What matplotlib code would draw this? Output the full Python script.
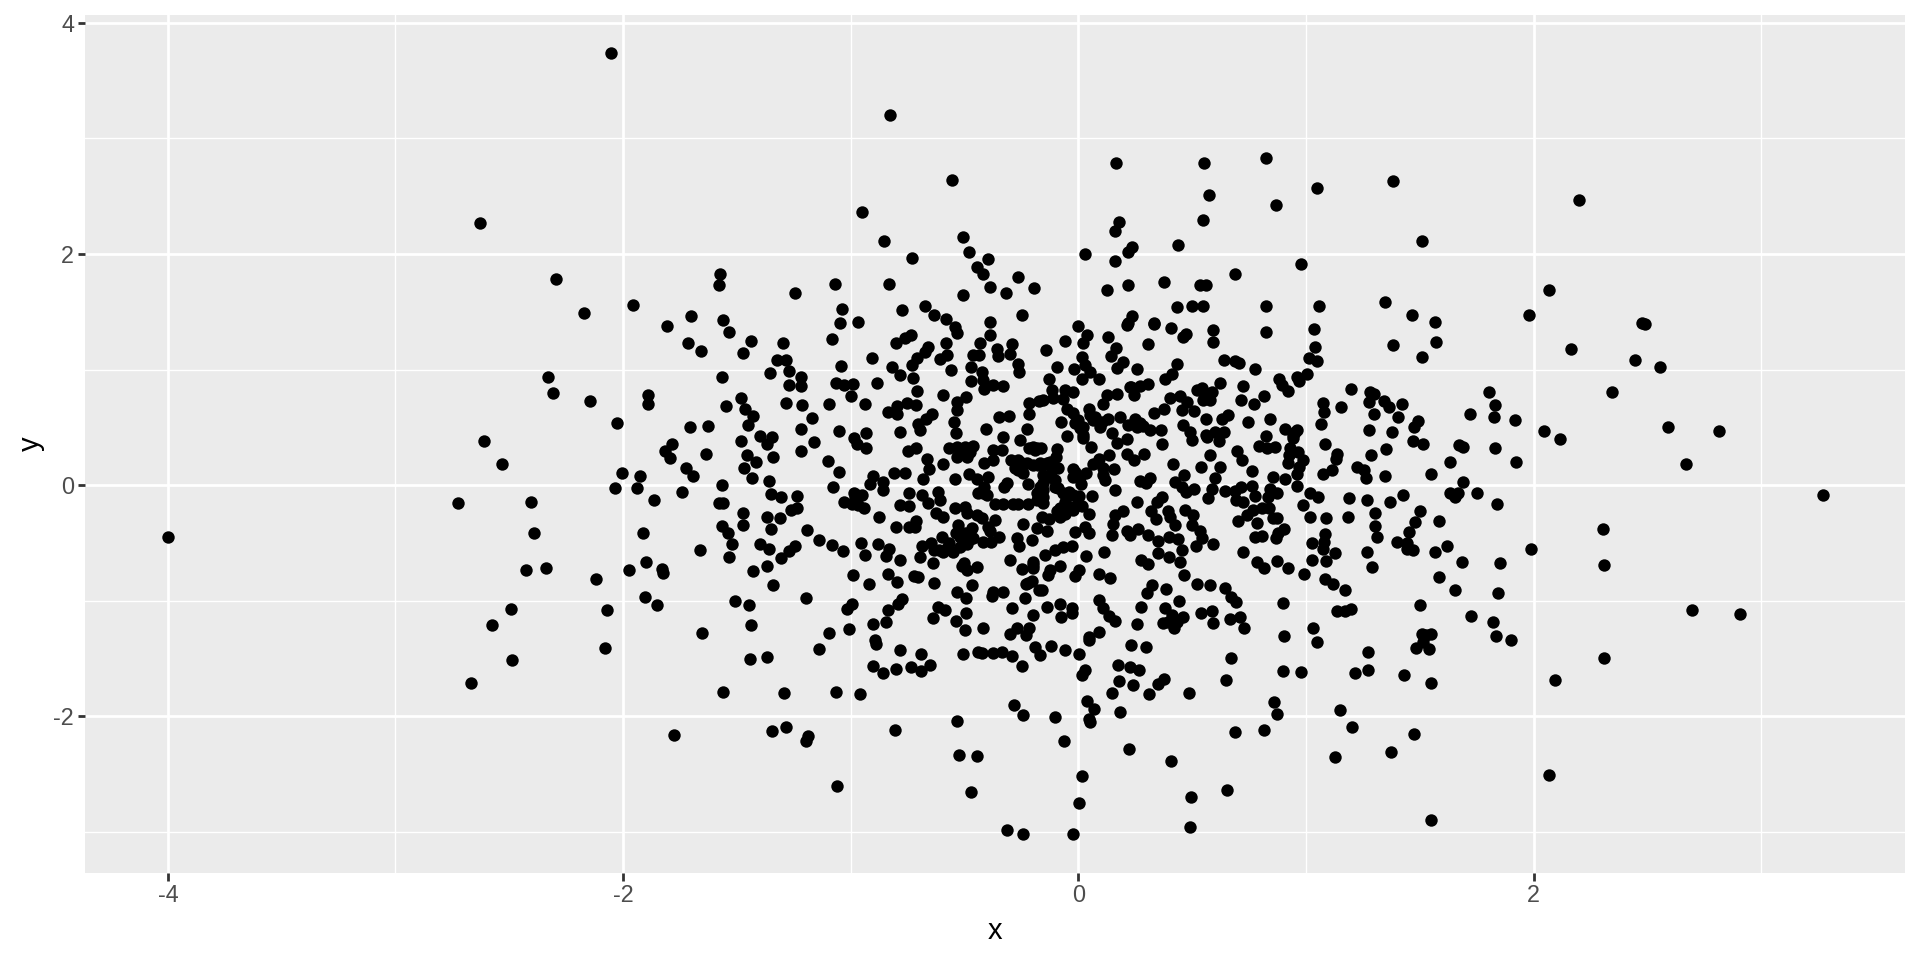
import numpy as np
import matplotlib
matplotlib.use("Agg")
import matplotlib.pyplot as plt

# values, by region
top_points = [
(-2.627,2.268),(-2.296,1.787),(-2.053,3.735),(-0.826,3.207),(-0.553,2.637),(-0.950,2.363),(-0.855,2.110),(-0.507,2.144),
(-0.479,2.014),(-0.398,1.954),(-0.731,1.963),(-0.447,1.888),(-0.419,1.827),(-0.264,1.804),(-0.196,1.706),(-0.389,1.715),
(-0.319,1.663),(-0.505,1.648),(-0.832,1.744),(-1.067,1.744),(-1.245,1.663),(-1.037,1.522),(-1.575,1.827),(-1.578,1.732),
(-1.956,1.559),(-2.173,1.490),(-1.700,1.467),(-1.559,1.43),(-0.775,1.513),(-0.675,1.548),(-0.634,1.473),(-0.583,1.435),
(-0.389,1.415),(-0.249,1.476),(-0.966,1.415),(-1.047,1.40),
(0.165,2.784),(0.551,2.790),(0.824,2.827),(1.384,2.631),(1.048,2.573),(0.575,2.513),(0.868,2.424),(0.546,2.297),
(0.179,2.274),(0.163,2.199),(1.510,2.112),(0.237,2.061),(0.220,2.014),(0.029,2.003),(0.160,1.939),(0.439,2.081),
(0.977,1.911),(0.687,1.824),(0.218,1.729),(0.124,1.689),(0.378,1.755),(0.534,1.729),(0.561,1.732),(0.435,1.545),
(0.501,1.550),(0.549,1.553),(0.823,1.553),(1.057,1.548),(1.347,1.588),(1.467,1.473),(1.567,1.415),(0.237,1.464),
(0.332,1.40),(0.22,1.40),(2.201,2.467),(2.066,1.692),(1.981,1.470),(2.476,1.406),(2.489,1.395),
]

far_left_points = [
(-4.000,-0.450),(-2.331,0.939),(-2.310,0.801),(-2.613,0.383),(-2.533,0.182),(-2.725,-0.150),(-2.404,-0.144),(-2.391,-0.415),
(-2.425,-0.735),(-2.337,-0.715),(-2.493,-1.066),(-2.574,-1.207),(-2.490,-1.513),(-2.668,-1.712),
]

left_points = [
(-1.807,1.375),(-1.536,1.326),(-1.714,1.228),(-1.657,1.161),(-1.436,1.245),(-1.471,1.147),(-1.297,1.231),(-1.325,1.081),
(-1.284,1.081),(-1.269,0.988),(-1.356,0.974),(-1.217,0.934),(-1.272,0.867),(-1.217,0.859),(-1.082,1.262),(-1.564,0.937),
(-1.042,1.035),(-0.906,1.104),(-1.064,0.885),(-1.028,0.867),(-0.990,0.873),(-0.999,0.775),(-0.886,0.885),(-0.817,1.020),
(-0.785,0.954),(-0.799,1.233),(-0.761,1.271),(-0.733,1.300),(-0.660,1.199),(-0.672,1.156),(-0.707,1.104),(-0.732,1.040),
(-0.725,0.928),(-0.709,0.816),(-0.581,1.233),(-0.608,1.089),(-0.577,1.127),(-0.559,0.997),(-0.540,1.372),(-0.531,1.320),
(-0.388,1.300),(-0.430,1.228),(-0.464,1.127),(-0.435,1.127),(-0.470,1.026),(-0.356,1.176),(-0.351,1.121),(-0.302,1.135),
(-0.290,1.222),(-0.266,1.049),(-0.259,0.983),(-0.425,0.983),(-0.417,0.911),(-0.473,0.899),(-0.413,0.830),(-0.373,0.867),
(-0.332,0.856),(-0.596,0.781),(-0.493,0.761),(-0.531,0.723),(-0.531,0.651),(-1.482,0.755),(-1.546,0.683),(-1.463,0.657),
(-1.430,0.599),(-1.451,0.522),(-1.286,0.715),(-1.214,0.695),(-1.095,0.703),(-0.939,0.700),(-1.170,0.579),(-1.218,0.487),
(-1.053,0.473),(-0.837,0.637),(-0.798,0.689),(-0.795,0.617),(-0.754,0.709),(-0.715,0.692),(-0.641,0.614),(-0.670,0.576),
(-0.703,0.527),(-0.697,0.478),(-0.785,0.458),(-0.548,0.550),(-0.539,0.455),(-0.404,0.484),(-0.347,0.588),(-0.303,0.602),
(-0.225,0.487),(-0.218,0.617),(-0.217,0.709),(-0.173,0.729),(-0.331,0.421),(-0.255,0.392),(-2.146,0.732),(-1.890,0.778),
(-1.890,0.706),(-2.028,0.542),(-1.704,0.504),(-1.627,0.510),(-1.785,0.357),(-1.817,0.297),(-1.796,0.239),(-1.634,0.271),
(-1.480,0.380),(-1.398,0.424),(-1.344,0.415),(-1.369,0.357),(-1.455,0.265),(-1.340,0.248),(-1.416,0.202),(-1.469,0.150),
(-1.723,0.150),(-1.694,0.078),(-2.004,0.104),(-1.927,0.078),(-1.435,0.061),(-1.359,0.035),(-1.218,0.297),(-1.163,0.372),
(-1.098,0.207),(-1.051,0.115),(-0.985,0.406),(-0.933,0.450),(-0.973,0.357),(-0.933,0.320),(-1.076,-0.012),(-0.750,0.300),
(-0.715,0.320),(-0.663,0.225),(-0.656,0.138),(-0.593,0.187),(-0.902,0.084),(-0.917,0.009),(-0.811,0.104),(-0.763,0.110),
(-0.857,0.026),(-0.857,-0.040),(-0.682,0.052),(-0.542,0.058),(-0.567,0.320),(-0.531,0.329),(-0.498,0.334),(-0.462,0.340),
(-0.534,0.242),(-0.488,0.242),(-0.414,0.190),(-0.376,0.219),(-0.373,0.305),(-0.337,0.305),(-0.479,0.098),(-0.447,0.052),
(-0.398,0.075),(-0.414,-0.012),(-0.315,0.017),(-0.325,-0.017),(-0.220,0.014),(-0.297,0.219),(-0.278,0.147),(-0.249,0.190),
(-0.242,0.110),(-0.198,0.334),(-0.216,0.320),(-0.183,0.320),(-0.201,0.176),(-0.176,0.176),(-2.035,-0.023),(-1.940,-0.026),
(-1.865,-0.130),(-1.739,-0.055),(-1.567,0.000),(-1.577,-0.153),(-1.559,-0.153),(-1.351,-0.072),(-1.305,-0.098),(-1.237,-0.089),
(-1.262,-0.213),(-1.234,-0.193),(-1.471,-0.236),(-1.474,-0.340),(-1.366,-0.277),(-1.309,-0.285),(-1.350,-0.380),(-1.565,-0.354),
(-1.537,-0.412),(-1.912,-0.412),(-1.193,-0.389),(-1.141,-0.473),(-1.083,-0.516),(-1.035,-0.568),(-1.520,-0.510),(-1.400,-0.510),
(-1.359,-0.553),(-1.243,-0.522),(-1.269,-0.568),(-1.307,-0.625),(-1.536,-0.620),(-1.663,-0.559),(-1.899,-0.666),(-1.972,-0.732),
(-1.827,-0.726),(-1.823,-0.755),(-2.120,-0.813),(-1.369,-0.695),(-1.429,-0.741),(-1.343,-0.865),(-1.905,-0.963),(-1.849,-1.040),
(-2.069,-1.075),(-1.507,-1.000),(-1.445,-1.040),(-1.196,-0.971),(-1.436,-1.205),(-1.654,-1.274),(-1.095,-1.274),(-1.009,-1.242),
(-0.994,-1.026),(-1.018,-1.072),(-0.988,-0.775),(-0.919,-0.856),(-0.953,-0.499),(-0.880,-0.507),(-0.936,-0.599),(-0.830,-0.550),
(-0.843,-0.611),(-0.782,-0.646),(-0.835,-0.764),(-0.798,-0.836),(-0.723,-0.784),(-0.706,-0.795),(-0.635,-0.844),(-0.773,-0.986),
(-0.791,-1.026),(-0.835,-1.078),(-0.846,-1.179),(-0.903,-1.196),(-0.893,-1.337),(-0.638,-0.669),(-0.694,-0.622),(-0.688,-0.524),
(-0.649,-0.501),(-0.633,-0.559),(-0.600,-0.444),(-0.593,-0.573),(-0.570,-0.501),(-0.549,-0.573),(-0.520,-0.530),(-0.488,-0.507),
(-0.537,-0.415),(-0.527,-0.343),(-0.469,-0.372),(-0.498,-0.415),(-0.476,-0.467),(-0.420,-0.487),(-0.384,-0.487),(-0.347,-0.444),
(-0.395,-0.357),(-0.366,-0.300),(-0.388,-0.392),(-0.242,-0.331),(-0.271,-0.458),(-0.259,-0.524),(-0.205,-0.473),(-0.183,-0.372),
(-0.300,-0.646),(-0.502,-0.669),(-0.512,-0.697),(-0.488,-0.732),(-0.447,-0.703),(-0.469,-0.862),(-0.531,-0.925),(-0.495,-0.971),
(-0.376,-0.919),(-0.379,-0.957),(-0.329,-0.925),(-0.234,-0.971),(-0.290,-1.063),(-0.230,-0.856),(-0.205,-0.824),(-0.246,-0.726),
(-0.198,-0.660),(-0.198,-0.718),(-0.618,-1.049),(-0.586,-1.078),(-0.638,-1.150),(-0.492,-1.101),(-0.539,-1.173),(-0.499,-1.251),
(-0.420,-1.236),(-0.198,-1.121),(-0.300,-1.285),(-0.268,-1.236),(-0.215,-1.236),(-0.230,-1.294),(-0.173,-0.905),(-0.783,-0.170),
(-0.742,-0.179),(-0.746,-0.066),(-0.687,-0.081),(-0.616,-0.058),(-0.608,-0.127),(-0.659,-0.156),(-0.874,-0.271),(-0.802,-0.357),
(-0.746,-0.363),(-0.713,-0.308),(-0.717,-0.357),(-0.625,-0.236),(-0.595,-0.271),(-0.542,-0.193),(-0.498,-0.184),(-0.490,-0.242),
(-0.447,-0.256),(-0.425,-0.285),(-0.439,-0.063),(-0.402,-0.084),(-0.366,-0.158),(-0.329,-0.158),(-0.286,-0.158),(-0.264,-0.158),
(-0.220,-0.164),(-0.183,-0.127),(-0.984,-0.066),(-0.952,-0.084),(-1.029,-0.144),(-0.996,-0.164),(-0.966,-0.170),(-0.941,-0.193),
]

right_points = [
(0.000,1.380),(0.040,1.297),(0.022,1.228),(-0.057,1.248),(-0.141,1.170),(0.129,1.280),(0.215,1.386),(0.332,1.392),
(0.406,1.357),(0.473,1.308),(0.458,1.280),(0.590,1.340),(0.593,1.236),(0.823,1.329),(1.037,1.349),(1.040,1.196),
(1.571,1.242),(1.384,1.216),(1.510,1.107),(0.307,1.222),(0.165,1.190),(0.143,1.118),(0.195,1.069),(0.171,1.017),
(0.258,1.009),(0.018,1.107),(-0.095,1.023),(-0.018,1.003),(0.029,1.040),(0.051,0.983),(0.018,0.919),(0.092,0.916),
(-0.129,0.922),(0.433,1.052),(0.413,0.960),(0.379,0.916),(0.640,1.084),(0.688,1.078),(0.705,1.055),(0.775,1.009),
(1.015,1.101),(1.050,1.078),(1.003,0.960),(0.959,0.934),(0.970,0.902),(0.881,0.919),(0.897,0.867),(0.922,0.813),
(0.622,0.887),(0.722,0.856),(0.714,0.735),(0.773,0.700),(0.817,0.770),(0.520,0.824),(0.542,0.838),(0.586,0.809),
(0.549,0.738),(0.578,0.738),(0.403,0.758),(0.446,0.772),(0.476,0.723),(0.454,0.651),(0.509,0.646),(0.376,0.663),
(0.334,0.622),(0.307,0.876),(0.271,0.862),(0.230,0.847),(0.246,0.778),(0.171,0.787),(0.124,0.781),(0.110,0.700),
(0.047,0.657),(-0.022,0.810),(-0.059,0.824),(-0.114,0.824),(-0.154,0.738),(-0.110,0.752),(-0.066,0.746),(-0.051,0.657),
(-0.022,0.622),(-0.076,0.548),(-0.015,0.542),(0.022,0.501),(0.073,0.594),(0.132,0.573),(0.095,0.507),(0.184,0.594),
(0.249,0.573),(0.220,0.522),(0.256,0.507),(0.285,0.513),(0.315,0.478),(0.362,0.478),(0.366,0.354),(0.148,0.450),
(0.171,0.369),(0.212,0.401),(0.022,0.412),(0.054,0.329),(-0.051,0.427),(-0.092,0.311),(-0.164,0.320),(0.561,0.576),
(0.630,0.573),(0.659,0.605),(0.461,0.519),(0.490,0.464),(0.499,0.389),(0.561,0.435),(0.600,0.464),(0.640,0.464),
(0.618,0.386),(0.744,0.548),(0.842,0.573),(0.908,0.484),(0.959,0.478),(0.944,0.406),(0.824,0.427),(0.795,0.340),
(0.827,0.326),(0.864,0.331),(0.698,0.300),(0.720,0.219),(0.578,0.259),(0.763,0.127),(0.417,0.182),(0.540,0.158),
(0.624,0.156),(0.600,0.066),(0.212,0.271),(0.243,0.219),(0.287,0.268),(0.136,0.265),(0.092,0.225),(0.066,0.184),
(0.110,0.147),(0.157,0.141),(0.110,0.089),(0.117,0.046),(-0.022,0.138),(0.032,0.110),(-0.022,0.075),(0.010,0.012),
(-0.100,0.248),(-0.139,0.190),(-0.088,0.147),(-0.154,0.089),(-0.102,0.046),(-0.088,-0.026),(-0.154,-0.040),(0.271,0.037),
(0.297,0.017),(0.315,0.066),(0.160,-0.040),(0.059,-0.089),(0.004,-0.092),(-0.041,-0.055),(0.466,0.089),(0.425,0.026),
(0.454,-0.012),(0.471,-0.061),(0.508,-0.032),(0.589,-0.035),(0.571,-0.112),(0.646,-0.049),(0.688,-0.049),(0.713,-0.012),
(0.761,-0.006),(0.776,-0.092),(0.693,-0.127),(0.725,-0.147),(0.857,0.075),(0.908,0.052),(0.842,-0.035),(0.874,-0.069),
(0.834,-0.098),(0.962,-0.006),(0.962,0.098),(0.971,0.161),(0.988,0.219),(0.922,0.190),(0.927,0.262),(0.930,0.320),
(0.966,0.291),(0.369,-0.104),(0.344,-0.147),(0.256,-0.144),(0.319,-0.222),(0.341,-0.291),(0.198,-0.222),(0.161,-0.256),
(0.154,-0.334),(0.146,-0.429),(0.045,-0.248),(0.015,-0.179),(-0.022,-0.213),(-0.044,-0.213),(-0.081,-0.271),(-0.059,-0.141),
(-0.127,-0.291),(-0.161,-0.271),(-0.139,-0.392),(-0.154,-0.156),(0.395,-0.219),(0.403,-0.271),(0.468,-0.210),(0.505,-0.256),
(0.427,-0.346),(0.498,-0.343),(0.534,-0.392),(0.544,-0.458),(0.593,-0.510),(0.515,-0.522),(0.215,-0.392),(0.227,-0.429),
(0.264,-0.380),(0.306,-0.429),(0.351,-0.478),(0.400,-0.444),(0.436,-0.467),(0.454,-0.559),(-0.015,-0.401),(0.029,-0.357),
(0.048,-0.415),(-0.026,-0.524),(-0.066,-0.536),(-0.102,-0.559),(-0.146,-0.602),(-0.081,-0.697),(-0.124,-0.732),(-0.132,-0.775),
(0.004,-0.732),(-0.015,-0.784),(0.035,-0.608),(0.114,-0.576),(0.351,-0.588),(0.398,-0.620),(0.447,-0.666),(0.275,-0.646),
(0.307,-0.680),(0.464,-0.772),(0.523,-0.850),(0.580,-0.867),(0.644,-0.885),(0.669,-0.968),(0.695,-1.014),(0.092,-0.767),
(0.138,-0.804),(0.322,-0.865),(0.300,-0.934),(0.384,-0.899),(0.442,-0.997),(0.091,-0.991),(0.110,-1.063),(0.135,-1.130),
(0.163,-1.176),(0.275,-1.049),(0.382,-1.061),(-0.161,-0.905),(-0.082,-1.026),(-0.139,-1.049),(-0.029,-1.063),(-0.026,-1.107),
(-0.076,-1.136),(0.259,-1.202),(0.373,-1.193),(0.410,-1.121),(0.461,-1.141),(0.420,-1.236),(0.432,-1.179),(0.395,-1.179),
(0.538,-1.101),(0.586,-1.089),(0.590,-1.193),(0.666,-1.156),(0.710,-1.136),(0.728,-1.233),(0.091,-1.265),(0.047,-1.314),
(0.900,-1.017),(0.905,-1.308),(1.032,-1.236),(1.050,-1.352),(0.725,-0.579),(0.783,-0.666),(0.816,-0.718),(0.871,-0.651),
(0.922,-0.712),(0.991,-0.767),(1.025,-0.646),(1.088,-0.651),(1.126,-0.588),(1.073,-0.553),(1.025,-0.499),(1.079,-0.487),
(1.086,-0.424),(1.083,-0.813),(1.120,-0.853),(1.173,-0.908),(0.783,-0.329),(0.776,-0.444),(0.809,-0.438),(0.867,-0.458),
(0.905,-0.380),(0.879,-0.415),(0.700,-0.305),(0.739,-0.256),(0.769,-0.213),(0.805,-0.199),(0.839,-0.199),(0.857,-0.280),
(0.874,-0.285),(0.985,-0.170),(1.017,-0.069),(1.054,-0.104),(1.020,-0.271),(1.088,-0.282),(1.187,-0.271),(1.189,-0.107),
(1.268,-0.124),(1.370,-0.147),(1.425,-0.081),(1.303,-0.236),(1.303,-0.352),(1.312,-0.450),(1.502,-0.225),(1.478,-0.320),
(1.454,-0.406),(1.401,-0.487),(1.446,-0.496),(1.442,-0.553),(1.471,-0.559),(1.583,-0.308),(1.621,-0.522),(1.568,-0.579),
(1.269,-0.579),(1.290,-0.703),(1.684,-0.666),(1.583,-0.790),(1.656,-0.908),(1.851,-0.669),(1.843,-0.934),(1.501,-1.040),
(1.135,-1.086),(1.171,-1.086),(1.200,-1.066),(1.725,-1.130),(1.824,-1.179),(1.508,-1.285),(1.548,-1.285),(1.835,-1.308),
(1.899,-1.337),(1.527,-1.294),(1.751,-0.069),(1.840,-0.161),(1.633,-0.069),(1.654,-0.098),(1.669,-0.063),(1.691,0.032),
(1.549,0.098),(1.633,0.202),(1.674,0.349),(1.688,0.334),(1.832,0.323),(1.925,0.205),(1.919,0.565),(1.722,0.620),
(1.826,0.594),(1.829,0.692),(1.805,0.810),(1.198,0.830),(1.281,0.810),(1.300,0.790),(1.278,0.723),(1.343,0.729),
(1.365,0.674),(1.422,0.706),(1.073,0.709),(1.078,0.637),(1.155,0.674),(1.297,0.614),(1.404,0.591),(1.066,0.527),
(1.277,0.476),(1.379,0.458),(1.493,0.559),(1.476,0.501),(1.469,0.386),(1.515,0.360),(1.085,0.357),(1.136,0.271),
(1.133,0.225),(1.354,0.317),(1.288,0.259),(1.114,0.130),(1.073,0.098),(1.223,0.158),(1.256,0.133),(1.263,0.063),
(1.346,0.084),
]

# dots hidden inside the dense blobs near the middle
center_points = [
(-0.081,-0.199),(-0.059,-0.248),(-0.037,-0.184),(-0.007,-0.170),(-0.095,-0.219),(-0.125,0.205),(-0.161,0.176),(-0.117,0.133),
(-0.125,0.075),(-0.157,0.017),(-0.154,-0.098),(-0.102,-0.012),(-0.066,-0.069),(-0.022,-0.084),(-0.015,0.118),(0.007,0.075),
(0.000,0.565),(0.022,0.435),(0.007,0.493),(0.066,0.565),(0.102,0.550),(0.051,0.608),(0.227,0.853),(0.271,0.536),
(0.556,0.781),(0.549,0.810),(0.564,0.421),(0.944,0.435),(0.952,0.464),(-0.227,0.190),(-0.264,0.219),(-0.190,0.305),
(-0.168,0.190),(-0.264,0.133),(-0.183,-0.069),(-0.168,-0.012),(-0.417,-0.069),(-0.198,-0.689),(-0.220,-0.847),(-0.520,-0.444),
(-0.577,-0.545),(-0.613,-0.559),(-0.462,-0.458),(-0.498,0.288),(-0.476,0.291),(-0.981,-0.112),(-0.974,-0.084),
]

far_right_points = [
(2.165,1.179),(2.445,1.084),(2.555,1.020),(2.343,0.807),(2.589,0.501),(2.816,0.473),(2.672,0.184),(2.047,0.470),
(2.117,0.401),(3.270,-0.084),(2.303,-0.375),(2.311,-0.692),(1.991,-0.548),(2.697,-1.081),(2.906,-1.112),
(2.308,-1.493),(2.094,-1.686),(2.069,-2.504),
]

bottom_points = [
(-2.079,-1.406),(-1.442,-1.507),(-1.369,-1.484),(-1.139,-1.418),(-1.561,-1.787),(-1.291,-1.798),(-1.066,-1.789),(-0.960,-1.807),
(-1.777,-2.164),(-1.344,-2.124),(-1.286,-2.089),(-1.189,-2.170),(-1.196,-2.216),(-1.060,-2.599),(-0.805,-2.121),(-0.533,-2.040),
(-0.284,-1.899),(-0.242,-1.983),(-0.526,-2.331),(-0.447,-2.343),(-0.473,-2.654),(-0.315,-2.986),(-0.245,-3.014),(-0.887,-1.375),
(-0.782,-1.427),(-0.691,-1.461),(-0.902,-1.562),(-0.857,-1.625),(-0.801,-1.591),(-0.736,-1.576),(-0.690,-1.605),(-0.650,-1.553),
(-0.505,-1.458),(-0.439,-1.438),(-0.422,-1.452),(-0.373,-1.447),(-0.337,-1.438),(-0.291,-1.481),(-0.249,-1.562),(-0.190,-1.401),
(-0.168,-1.467),(-0.119,-1.389),(-0.059,-1.424),(0.003,-1.458),(0.045,-1.337),(0.029,-1.602),(0.015,-1.640),(0.173,-1.553),
(0.227,-1.568),(0.265,-1.597),(0.231,-1.380),(0.299,-1.395),(0.177,-1.697),(0.242,-1.726),(0.148,-1.798),(0.309,-1.804),
(0.348,-1.718),(0.376,-1.677),(0.488,-1.795),(0.649,-1.683),(0.671,-1.496),(0.900,-1.608),(0.978,-1.614),(0.037,-1.870),
(0.067,-1.937),(0.182,-1.965),(0.048,-2.023),(0.051,-2.052),(-0.102,-2.003),(-0.063,-2.216),(0.221,-2.282),(0.406,-2.389),
(0.016,-2.516),(0.004,-2.749),(-0.025,-3.020),(0.495,-2.700),(0.490,-2.960),(0.653,-2.640),(0.688,-2.135),(0.817,-2.115),
(0.861,-1.879),(0.871,-1.977),(1.149,-1.942),(1.203,-2.089),(1.126,-2.352),(1.375,-2.309),(1.476,-2.153),(1.548,-2.893),
(1.214,-1.625),(1.274,-1.600),(1.274,-1.438),(1.432,-1.640),(1.548,-1.709),(1.485,-1.406),(1.540,-1.412),(1.515,-1.352),
]

x_major = [-4, -2, 0, 2]
x_minor = [-3, -1, 1, 3]
y_major = [-2, 0, 2, 4]
y_minor = [-3, -1, 1, 3]

plt.rcParams["font.family"] = ["Liberation Sans", "DejaVu Sans"]
plt.rcParams["axes.unicode_minus"] = False

pts = np.array(top_points + far_left_points + left_points + right_points + center_points + far_right_points + bottom_points)

fig = plt.figure(figsize=(19.2, 9.6), dpi=100)
ax = fig.add_axes([85 / 1920, 87 / 960, 1820 / 1920, 858 / 960])
ax.set_facecolor("#EBEBEB")
for side in ax.spines.values():
    side.set_visible(False)

ax.set_xlim(-4.364, 3.632)
ax.set_ylim(-3.354, 4.068)
ax.set_xticks(x_major)
ax.set_yticks(y_major)
ax.set_xticks(x_minor, minor=True)
ax.set_yticks(y_minor, minor=True)
ax.grid(True, which="major", color="white", linewidth=2.0)
ax.grid(True, which="minor", color="white", linewidth=1.0)
ax.set_axisbelow(True)
ax.tick_params(which="major", length=5.4, width=2.0, color="#333333", labelcolor="#4D4D4D", labelsize=16.8, pad=2.5)
ax.tick_params(which="minor", length=0)

ax.scatter(pts[:, 0], pts[:, 1], s=80, color="black", linewidths=0, zorder=3)

ax.set_xlabel("x", fontsize=21, color="black", labelpad=7)
ax.set_ylabel("y", fontsize=21, color="black", labelpad=6)

fig.savefig("out.png", dpi=100, facecolor="white")
